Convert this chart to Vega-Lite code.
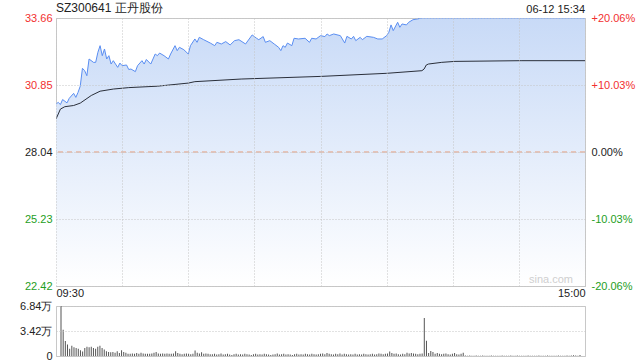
{
"$schema":"https://vega.github.io/schema/vega-lite/v6.json",
"background":"white",
"padding":{"left":19,"top":1,"right":0,"bottom":0},
"config":{"font":"Liberation Sans","view":{"stroke":"#c8c8c8"},"axis":{"labelFont":"Liberation Sans","labelFontSize":11,"ticks":false,"domain":false,"title":null},"concat":{"spacing":0}},
"datasets":{
"price":[{"i":0,"p":30.05},{"i":1,"p":30.12},{"i":2,"p":30.03},{"i":3,"p":30.24},{"i":5,"p":30.10},{"i":6,"p":30.29},{"i":8,"p":30.50},{"i":9,"p":30.33},{"i":10,"p":30.54},{"i":11,"p":30.80},{"i":12,"p":31.55},{"i":13,"p":31.45},{"i":14,"p":31.24},{"i":15,"p":31.94},{"i":17,"p":31.80},{"i":18,"p":31.80},{"i":19,"p":32.22},{"i":20,"p":32.50},{"i":21,"p":32.08},{"i":22,"p":32.36},{"i":23,"p":31.94},{"i":24,"p":32.08},{"i":25,"p":31.73},{"i":26,"p":31.87},{"i":28,"p":31.59},{"i":29,"p":31.77},{"i":30,"p":31.66},{"i":32,"p":31.69},{"i":33,"p":31.50},{"i":34,"p":31.52},{"i":36,"p":31.41},{"i":37,"p":31.66},{"i":39,"p":31.87},{"i":40,"p":31.73},{"i":41,"p":31.92},{"i":43,"p":31.73},{"i":45,"p":32.15},{"i":46,"p":32.08},{"i":47,"p":32.19},{"i":49,"p":32.08},{"i":51,"p":31.94},{"i":52,"p":32.15},{"i":54,"p":32.50},{"i":55,"p":32.29},{"i":56,"p":32.43},{"i":58,"p":32.33},{"i":60,"p":32.15},{"i":61,"p":32.50},{"i":63,"p":32.78},{"i":64,"p":32.64},{"i":65,"p":32.85},{"i":67,"p":32.75},{"i":70,"p":32.61},{"i":72,"p":32.50},{"i":73,"p":32.64},{"i":75,"p":32.57},{"i":77,"p":32.67},{"i":79,"p":32.53},{"i":81,"p":32.71},{"i":83,"p":32.75},{"i":86,"p":32.57},{"i":89,"p":32.95},{"i":91,"p":32.81},{"i":92,"p":32.75},{"i":94,"p":32.88},{"i":95,"p":32.64},{"i":97,"p":32.71},{"i":99,"p":32.57},{"i":101,"p":32.43},{"i":102,"p":32.29},{"i":103,"p":32.50},{"i":104,"p":32.43},{"i":105,"p":32.61},{"i":107,"p":32.50},{"i":108,"p":32.81},{"i":110,"p":32.78},{"i":113,"p":32.81},{"i":115,"p":32.64},{"i":116,"p":32.81},{"i":118,"p":32.78},{"i":120,"p":32.92},{"i":122,"p":32.88},{"i":123,"p":32.99},{"i":124,"p":32.92},{"i":126,"p":32.99},{"i":129,"p":32.92},{"i":131,"p":32.61},{"i":132,"p":32.89},{"i":134,"p":32.78},{"i":135,"p":32.89},{"i":136,"p":32.71},{"i":138,"p":32.85},{"i":139,"p":32.75},{"i":141,"p":32.89},{"i":144,"p":32.85},{"i":146,"p":32.78},{"i":148,"p":32.78},{"i":150,"p":32.92},{"i":151,"p":33.06},{"i":152,"p":33.37},{"i":153,"p":33.13},{"i":155,"p":33.48},{"i":156,"p":33.27},{"i":157,"p":33.41},{"i":159,"p":33.37},{"i":160,"p":33.48},{"i":162,"p":33.59},{"i":164,"p":33.62},{"i":166,"p":33.66},{"i":168,"p":33.66},{"i":180,"p":33.66},{"i":200,"p":33.66},{"i":220,"p":33.66},{"i":240,"p":33.66}],
"avg":[{"i":0,"a":29.42},{"i":2,"a":29.84},{"i":4,"a":29.94},{"i":8,"a":29.99},{"i":11,"a":30.09},{"i":16,"a":30.41},{"i":20,"a":30.59},{"i":26,"a":30.68},{"i":33,"a":30.74},{"i":46,"a":30.80},{"i":60,"a":30.93},{"i":63,"a":30.99},{"i":84,"a":31.10},{"i":120,"a":31.21},{"i":150,"a":31.34},{"i":166,"a":31.45},{"i":167,"a":31.52},{"i":168,"a":31.69},{"i":169,"a":31.73},{"i":175,"a":31.80},{"i":181,"a":31.84},{"i":211,"a":31.87},{"i":240,"a":31.87}],
"vol":[{"i":0,"v":6.84},{"i":1,"v":3.58},{"i":2,"v":2.05},{"i":3,"v":1.58},{"i":4,"v":1.0},{"i":5,"v":1.4},{"i":6,"v":1.2},{"i":7,"v":1.1},{"i":8,"v":1.0},{"i":9,"v":0.8},{"i":10,"v":0.6},{"i":11,"v":1.1},{"i":12,"v":1.25},{"i":13,"v":1.2},{"i":14,"v":1.25},{"i":15,"v":1.1},{"i":16,"v":1.0},{"i":17,"v":1.25},{"i":18,"v":1.4},{"i":19,"v":1.1},{"i":20,"v":0.9},{"i":21,"v":0.65},{"i":22,"v":0.55},{"i":23,"v":0.5},{"i":24,"v":0.55},{"i":25,"v":0.45},{"i":26,"v":0.65},{"i":27,"v":0.4},{"i":28,"v":0.8},{"i":29,"v":0.55},{"i":30,"v":0.45},{"i":31,"v":0.3},{"i":32,"v":0.3},{"i":33,"v":0.35},{"i":34,"v":0.3},{"i":35,"v":0.4},{"i":36,"v":0.3},{"i":37,"v":0.45},{"i":38,"v":0.35},{"i":39,"v":0.3},{"i":40,"v":0.3},{"i":41,"v":0.3},{"i":42,"v":0.35},{"i":43,"v":0.45},{"i":44,"v":0.55},{"i":45,"v":0.35},{"i":46,"v":0.3},{"i":47,"v":0.35},{"i":48,"v":0.3},{"i":49,"v":0.35},{"i":50,"v":0.3},{"i":51,"v":0.3},{"i":52,"v":0.35},{"i":53,"v":0.65},{"i":54,"v":0.4},{"i":55,"v":0.3},{"i":56,"v":0.25},{"i":57,"v":0.3},{"i":58,"v":0.35},{"i":59,"v":0.3},{"i":60,"v":0.25},{"i":61,"v":0.3},{"i":62,"v":0.75},{"i":63,"v":0.45},{"i":64,"v":0.35},{"i":65,"v":0.5},{"i":66,"v":0.3},{"i":67,"v":0.35},{"i":68,"v":0.3},{"i":69,"v":0.25},{"i":70,"v":0.25},{"i":71,"v":0.3},{"i":72,"v":0.2},{"i":73,"v":0.25},{"i":74,"v":0.35},{"i":75,"v":0.2},{"i":76,"v":0.25},{"i":77,"v":0.3},{"i":78,"v":0.2},{"i":79,"v":0.15},{"i":80,"v":0.25},{"i":81,"v":0.3},{"i":82,"v":0.2},{"i":83,"v":0.25},{"i":84,"v":0.2},{"i":85,"v":0.3},{"i":86,"v":0.25},{"i":87,"v":0.2},{"i":88,"v":0.15},{"i":89,"v":0.25},{"i":90,"v":0.3},{"i":91,"v":0.2},{"i":92,"v":0.25},{"i":93,"v":0.2},{"i":94,"v":0.3},{"i":95,"v":0.25},{"i":96,"v":0.2},{"i":97,"v":0.15},{"i":98,"v":0.2},{"i":99,"v":0.25},{"i":100,"v":0.35},{"i":101,"v":0.2},{"i":102,"v":0.25},{"i":103,"v":0.3},{"i":104,"v":0.2},{"i":105,"v":0.25},{"i":106,"v":0.2},{"i":107,"v":0.15},{"i":108,"v":0.25},{"i":109,"v":0.3},{"i":110,"v":0.2},{"i":111,"v":0.25},{"i":112,"v":0.2},{"i":113,"v":0.3},{"i":114,"v":0.25},{"i":115,"v":0.2},{"i":116,"v":0.3},{"i":117,"v":0.25},{"i":118,"v":0.2},{"i":119,"v":0.25},{"i":120,"v":0.3},{"i":121,"v":0.35},{"i":122,"v":0.25},{"i":123,"v":0.4},{"i":124,"v":0.3},{"i":125,"v":0.25},{"i":126,"v":0.2},{"i":127,"v":0.3},{"i":128,"v":0.25},{"i":129,"v":0.35},{"i":130,"v":0.2},{"i":131,"v":0.3},{"i":132,"v":0.25},{"i":133,"v":0.2},{"i":134,"v":0.25},{"i":135,"v":0.2},{"i":136,"v":0.3},{"i":137,"v":0.2},{"i":138,"v":0.25},{"i":139,"v":0.2},{"i":140,"v":0.3},{"i":141,"v":0.25},{"i":142,"v":0.2},{"i":143,"v":0.25},{"i":144,"v":0.3},{"i":145,"v":0.2},{"i":146,"v":0.25},{"i":147,"v":0.35},{"i":148,"v":0.3},{"i":149,"v":0.25},{"i":150,"v":0.3},{"i":151,"v":0.35},{"i":152,"v":0.6},{"i":153,"v":0.4},{"i":154,"v":0.3},{"i":155,"v":0.35},{"i":156,"v":0.25},{"i":157,"v":0.2},{"i":158,"v":0.3},{"i":159,"v":0.25},{"i":160,"v":0.45},{"i":161,"v":0.35},{"i":162,"v":0.4},{"i":163,"v":0.35},{"i":164,"v":0.3},{"i":165,"v":0.25},{"i":166,"v":0.3},{"i":167,"v":0.35},{"i":168,"v":5.2},{"i":169,"v":2.1},{"i":170,"v":0.4},{"i":171,"v":0.7},{"i":172,"v":0.55},{"i":173,"v":0.3},{"i":174,"v":0.4},{"i":175,"v":0.3},{"i":176,"v":0.25},{"i":177,"v":0.3},{"i":178,"v":0.35},{"i":179,"v":0.25},{"i":180,"v":0.2},{"i":181,"v":0.3},{"i":182,"v":0.4},{"i":183,"v":0.25},{"i":184,"v":0.2},{"i":185,"v":0.3},{"i":186,"v":0.45},{"i":187,"v":0.08},{"i":188,"v":0.05},{"i":189,"v":0.06},{"i":190,"v":0.04},{"i":191,"v":0.05},{"i":192,"v":0.07},{"i":193,"v":0.05},{"i":194,"v":0.04},{"i":195,"v":0.06},{"i":196,"v":0.05},{"i":197,"v":0.04},{"i":198,"v":0.05},{"i":199,"v":0.06},{"i":200,"v":0.04},{"i":201,"v":0.05},{"i":202,"v":0.05},{"i":203,"v":0.04},{"i":204,"v":0.06},{"i":205,"v":0.05},{"i":206,"v":0.04},{"i":207,"v":0.05},{"i":208,"v":0.07},{"i":209,"v":0.04},{"i":210,"v":0.05},{"i":211,"v":0.06},{"i":212,"v":0.04},{"i":213,"v":0.05},{"i":214,"v":0.04},{"i":215,"v":0.05},{"i":216,"v":0.06},{"i":217,"v":0.04},{"i":218,"v":0.05},{"i":219,"v":0.05},{"i":220,"v":0.04},{"i":221,"v":0.06},{"i":222,"v":0.05},{"i":223,"v":0.04},{"i":224,"v":0.05},{"i":225,"v":0.06},{"i":226,"v":0.05},{"i":227,"v":0.04},{"i":228,"v":0.05},{"i":229,"v":0.04},{"i":230,"v":0.06},{"i":231,"v":0.05},{"i":232,"v":0.04},{"i":233,"v":0.05},{"i":234,"v":0.06},{"i":235,"v":0.05},{"i":236,"v":0.08},{"i":237,"v":0.1},{"i":238,"v":0.06},{"i":239,"v":0.05},{"i":240,"v":0.12}]
},
"vconcat":[
{
"width":529,"height":268,
"layer":[
{"data":{"name":"price"},
"mark":{"type":"area","clip":true,"color":{"gradient":"linear","x1":0,"y1":0,"x2":0,"y2":1,"stops":[{"offset":0,"color":"#c8daf7"},{"offset":1,"color":"#ffffff"}]}},
"encoding":{
"x":{"field":"i","type":"quantitative","scale":{"domain":[0,240],"nice":false,"zero":false},"axis":{"zindex":1,"values":[0,30,60,90,120,150,180,210,240],"grid":true,"gridColor":"#c4c4c4","gridDash":[1,2],"labelExpr":"datum.value == 0 ? '09:30' : datum.value == 240 ? '15:00' : ''","labelFlush":true,"labelPadding":1,"labelColor":"#222222"}},
"y":{"field":"p","type":"quantitative","scale":{"domain":[22.42,33.66],"nice":false,"zero":false},"axis":{"zindex":1,"values":[22.42,25.23,28.04,30.85,33.66],"format":".2f","grid":true,"gridColor":"#c4c4c4","gridDash":[1,2],"labelPadding":4,"labelColor":{"condition":[{"test":"datum.value > 28.1","value":"#f23030"},{"test":"datum.value < 28","value":"#1e9e1e"}],"value":"#222222"}}},
"y2":{"datum":22.42}
}},
{"data":{"values":[{}]},"mark":{"type":"rule","color":"#e59a78","strokeDash":[5,4],"strokeWidth":1},"encoding":{"y":{"datum":28.04,"type":"quantitative","axis":null}}},
{"data":{"name":"price"},"mark":{"type":"line","color":"#5a8ef2","strokeWidth":1,"clip":true},
"encoding":{"x":{"field":"i","type":"quantitative"},"y":{"field":"p","type":"quantitative","axis":null}}},
{"data":{"name":"avg"},"mark":{"type":"line","color":"#2a2f3a","strokeWidth":1,"clip":true},
"encoding":{"x":{"field":"i","type":"quantitative"},"y":{"field":"a","type":"quantitative","axis":{"orient":"right","values":[22.42,25.23,28.04,30.85,33.66],"grid":false,"labelPadding":6,"labelExpr":"datum.value > 33 ? '+20.06%' : datum.value > 30 ? '+10.03%' : datum.value > 27 ? '0.00%' : datum.value > 24 ? '-10.03%' : '-20.06%'","labelColor":{"condition":[{"test":"datum.value > 28.1","value":"#f23030"},{"test":"datum.value < 28","value":"#1e9e1e"}],"value":"#222222"}}}}},
{"data":{"values":[{}]},"mark":{"type":"text","text":"SZ300641 正丹股份","align":"left","baseline":"bottom","dy":-3,"fontSize":12,"color":"#222222","font":"Liberation Sans"},
"encoding":{"x":{"datum":0,"type":"quantitative"},"y":{"datum":33.66,"type":"quantitative","axis":null}}},
{"data":{"values":[{}]},"mark":{"type":"text","text":"06-12 15:34","align":"right","baseline":"bottom","dy":-3,"fontSize":11,"color":"#222222","font":"Liberation Sans"},
"encoding":{"x":{"datum":240,"type":"quantitative"},"y":{"datum":33.66,"type":"quantitative","axis":null}}},
{"data":{"values":[{}]},"mark":{"type":"text","text":"sina.com","align":"right","baseline":"bottom","dx":-12,"dy":-1,"fontSize":11,"color":"#cfcfcf","font":"Liberation Sans"},
"encoding":{"x":{"datum":240,"type":"quantitative"},"y":{"datum":22.42,"type":"quantitative","axis":null}}}
],
"resolve":{"axis":{"y":"independent"}}
},
{
"width":529,"height":50,
"data":{"name":"vol"},
"mark":{"type":"bar","color":"#555555","width":1},
"encoding":{
"x":{"field":"i","type":"quantitative","scale":{"domain":[0,240],"nice":false,"zero":false},"axis":null},
"y":{"field":"v","type":"quantitative","scale":{"domain":[0,6.84],"nice":false},"axis":{"zindex":1,"values":[0,3.42,6.84],"grid":true,"gridColor":"#c4c4c4","gridDash":[1,2],"labelPadding":4,"labelColor":"#222222","labelExpr":"datum.value == 0 ? '0' : format(datum.value, '.2f') + '万'"}}
}
}
]
}
